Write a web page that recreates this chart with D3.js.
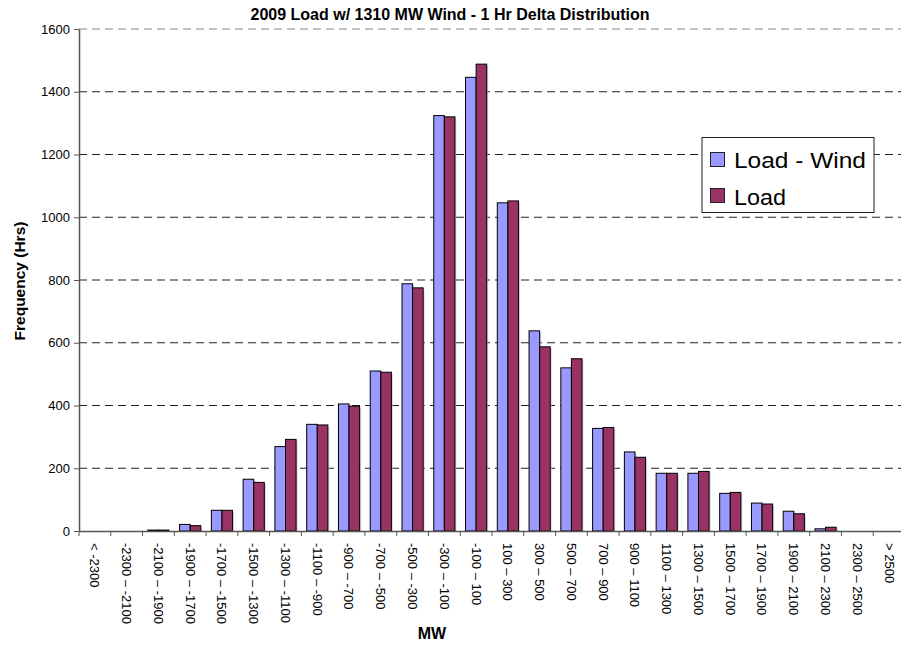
<!DOCTYPE html>
<html><head><meta charset="utf-8">
<script src="https://cdn.jsdelivr.net/npm/d3@7"></script>
<style>body{margin:0;background:#fff}svg{display:block;font-family:"Liberation Sans",Arial,sans-serif}</style>
</head><body>
<script>
const categories = ["< -2300","-2300 – -2100","-2100 – -1900","-1900 – -1700","-1700 – -1500","-1500 – -1300","-1300 – -1100","-1100 – -900","-900 – -700","-700 – -500","-500 – -300","-300 – -100","-100 – 100","100 – 300","300 – 500","500 – 700","700 – 900","900 – 1100","1100 – 1300","1300 – 1500","1500 – 1700","1700 – 1900","1900 – 2100","2100 – 2300","2300 – 2500","> 2500"];
const loadMinusWind = [0,0,3,21,66,165,269,340,405,510,788,1324,1446,1046,638,520,327,252,184,184,120,89,63,7,0,0];
const load = [0,0,3,17,66,155,292,338,398,506,775,1320,1488,1052,587,549,330,235,184,190,123,86,55,12,0,0];
const seriesNames = ["Load - Wind","Load"];
const seriesColors = ["#9999FF","#993366"];
const yTicks = [0,200,400,600,800,1000,1200,1400,1600];

const W = 901, H = 647;
const m = {left:79, top:29, right:905, bottom:531};
const svg = d3.select("body").append("svg").attr("width",W).attr("height",H);

const x = d3.scaleBand().domain(categories).range([m.left,m.right]).paddingInner(1/3).paddingOuter(1/6);
const xc = d3.scaleBand().domain(categories).range([m.left,m.right]);
const xs = d3.scaleBand().domain(seriesNames).range([0,x.bandwidth()]);
const y = d3.scaleLinear().domain([0,1600]).range([m.bottom,m.top]);

// gridlines
svg.append("g").selectAll("line").data(yTicks.filter(d=>d>0)).join("line")
  .attr("x1",m.left).attr("x2",m.right).attr("y1",d=>y(d)).attr("y2",d=>y(d))
  .attr("stroke",d=>d===1600?"#888":"#222").attr("stroke-width",1).attr("stroke-dasharray","8,5");

// bars
const series = [loadMinusWind, load];
series.forEach((vals,si)=>{
  const g = svg.append("g");
  g.selectAll("rect.sh").data(vals).join("rect").attr("class","sh")
    .attr("x",(d,i)=>x(categories[i])+xs(seriesNames[si])+1.5)
    .attr("y",d=>y(d)+1.5)
    .attr("width",xs.bandwidth()).attr("height",d=>Math.max(0,m.bottom-y(d)-1.5))
    .attr("fill","#bbb").attr("opacity",d=>d>0?0.6:0);
  g.selectAll("rect.b").data(vals).join("rect").attr("class","b")
    .attr("x",(d,i)=>x(categories[i])+xs(seriesNames[si]))
    .attr("y",d=>y(d))
    .attr("width",xs.bandwidth()).attr("height",d=>m.bottom-y(d))
    .attr("fill",seriesColors[si]).attr("stroke","#000").attr("stroke-width",d=>d>0?1:0);
});

// y axis
const yAxis = d3.axisLeft(y).tickValues(yTicks).tickFormat(d3.format("d")).tickSize(5).tickSizeOuter(0).tickPadding(4);
const ga = svg.append("g").attr("transform",`translate(${m.left},0)`).call(yAxis);
ga.select(".domain").attr("stroke","#555").attr("stroke-width",1.5);
ga.selectAll(".tick line").attr("stroke","#555");
ga.selectAll("text").attr("font-size","13px").attr("fill","#000").attr("font-family","Liberation Sans, Arial, sans-serif");

// x axis
const xAxis = d3.axisBottom(xc).tickSize(0).tickSizeOuter(0);
const gx = svg.append("g").attr("transform",`translate(0,${m.bottom})`).call(xAxis);
gx.select(".domain").attr("stroke","#555").attr("stroke-width",1.5);
gx.selectAll("text").attr("font-size","13px").attr("fill","#000").attr("font-family","Liberation Sans, Arial, sans-serif")
  .attr("text-anchor","start").attr("transform","rotate(90)").attr("x",12).attr("y",0).attr("dy","0.35em");
gx.append("g").selectAll("line").data(categories.map((c,i)=>i)).join("line")
  .attr("x1",i=>xc(categories[i])).attr("x2",i=>xc(categories[i])).attr("y1",0).attr("y2",5)
  .attr("stroke","#555");

// titles
svg.append("text").attr("x",450).attr("y",19.5).attr("text-anchor","middle")
  .attr("font-weight","bold").attr("font-size","16px").text("2009 Load w/ 1310 MW Wind - 1 Hr Delta Distribution");
svg.append("text").attr("transform","translate(25,281) rotate(-90)").attr("text-anchor","middle")
  .attr("font-weight","bold").attr("font-size","15.5px").text("Frequency (Hrs)");
svg.append("text").attr("x",432).attr("y",639).attr("text-anchor","middle")
  .attr("font-weight","bold").attr("font-size","16px").text("MW");

// legend
const legendTextLen = [132, 52];
const lg = svg.append("g");
lg.append("rect").attr("x",702).attr("y",137.5).attr("width",172).attr("height",75)
  .attr("fill","#fff").attr("stroke","#222").attr("stroke-width",1);
seriesNames.forEach((n,i)=>{
  lg.append("rect").attr("x",710.5).attr("y",152.5+i*36).attr("width",14).attr("height",14)
    .attr("fill",seriesColors[i]).attr("stroke","#222");
  lg.append("text").attr("x",734).attr("y",168+i*37).attr("font-size","22px")
    .attr("textLength",legendTextLen[i]).attr("lengthAdjust","spacingAndGlyphs").text(n);
});
</script>
</body></html>
